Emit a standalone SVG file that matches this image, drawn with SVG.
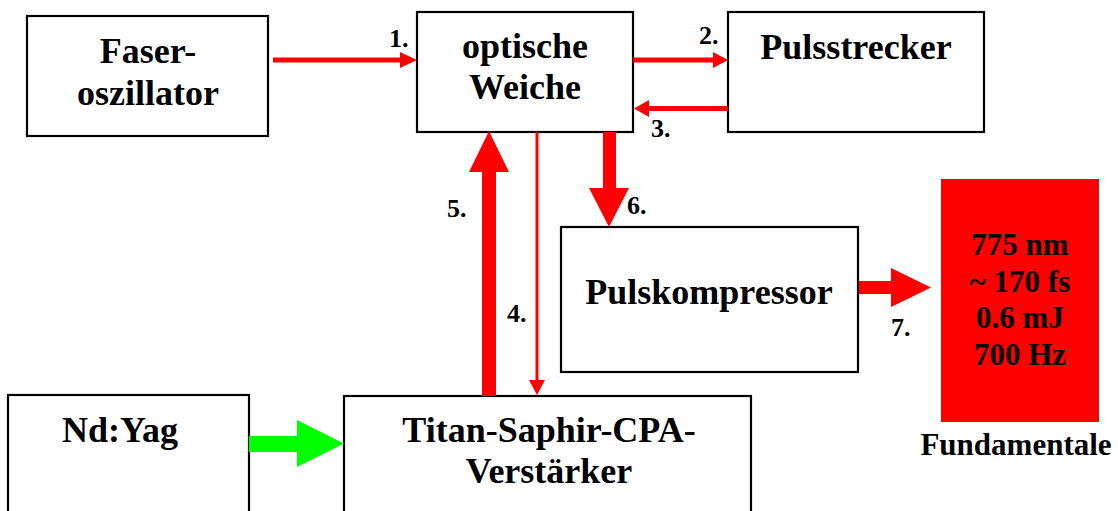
<svg xmlns="http://www.w3.org/2000/svg" width="1118" height="511" viewBox="0 0 1118 511" font-family="Liberation Serif, serif" font-weight="bold">
<style>
.box{fill:#fff;stroke:#000;stroke-width:2.2}
text{font-family:'Liberation Serif',serif;font-weight:bold;fill:#000}
.big{font-size:36px;text-anchor:middle}
.mid{font-size:31px;text-anchor:middle}
.lbl{font-size:26px}
.red{fill:#ff0000}
.grn{fill:#00ff00}
</style>
<rect width="1118" height="511" fill="#fff"/>
<g id="faseroszillator">
<rect class="box" x="27" y="16" width="241" height="120"/>
<text class="big" x="148" y="63">Faser-</text>
<text class="big" x="148" y="105">oszillator</text>
</g>
<g id="optische-weiche">
<rect class="box" x="417" y="12" width="216" height="120"/>
<text class="big" x="525" y="58">optische</text>
<text class="big" x="525" y="99">Weiche</text>
</g>
<g id="pulsstrecker">
<rect class="box" x="728" y="12" width="256" height="120"/>
<text class="big" x="856" y="59">Pulsstrecker</text>
</g>
<g id="pulskompressor">
<rect class="box" x="561" y="227" width="297" height="145"/>
<text class="big" x="709" y="304">Pulskompressor</text>
</g>
<g id="titan-saphir">
<rect class="box" x="344" y="396" width="407" height="130"/>
<text class="big" x="549" y="442">Titan-Saphir-CPA-</text>
<text class="big" x="549" y="483">Verstärker</text>
</g>
<g id="ndyag">
<rect class="box" x="8" y="395" width="241" height="130"/>
<text class="big" x="120" y="442">Nd:Yag</text>
</g>
<g id="fundamentale">
<rect class="red" x="941" y="179" width="158" height="243"/>
<text class="mid" x="1020" y="255">775 nm</text>
<text class="mid" x="1020" y="292">~ 170 fs</text>
<text class="mid" x="1020" y="328">0.6 mJ</text>
<text class="mid" x="1020" y="365">700 Hz</text>
<text class="mid" x="1016" y="455">Fundamentale</text>
</g>
<g id="connectors">
<rect class="red" x="273" y="57.5" width="128" height="5"/>
<polygon class="red" points="400,52 417,60 400,68"/>
<rect class="red" x="633" y="57.5" width="81" height="5"/>
<polygon class="red" points="713,52 728,60 713,68"/>
<rect class="red" x="648" y="106" width="80" height="5"/>
<polygon class="red" points="649,100 634,108.5 649,117"/>
<rect class="red" x="535.5" y="132" width="3" height="249"/>
<polygon class="red" points="529,380 545,380 537,395"/>
<rect class="red" x="482" y="171" width="14" height="225"/>
<polygon class="red" points="469,172 489,131 509,172"/>
<rect class="red" x="603" y="132" width="13" height="57"/>
<polygon class="red" points="589,188 629,188 609,227"/>
<rect class="red" x="859" y="281" width="33" height="13"/>
<polygon class="red" points="891,268 931,287.5 891,307"/>
<rect class="grn" x="249" y="436" width="49" height="16"/>
<polygon class="grn" points="297,420 344,443.5 297,467"/>
</g>
<g id="labels">
<text class="lbl" x="389" y="47">1.</text>
<text class="lbl" x="699" y="44">2.</text>
<text class="lbl" x="651" y="137">3.</text>
<text class="lbl" x="507" y="322">4.</text>
<text class="lbl" x="447" y="217">5.</text>
<text class="lbl" x="627" y="214">6.</text>
<text class="lbl" x="891" y="336">7.</text>
</g>
</svg>
